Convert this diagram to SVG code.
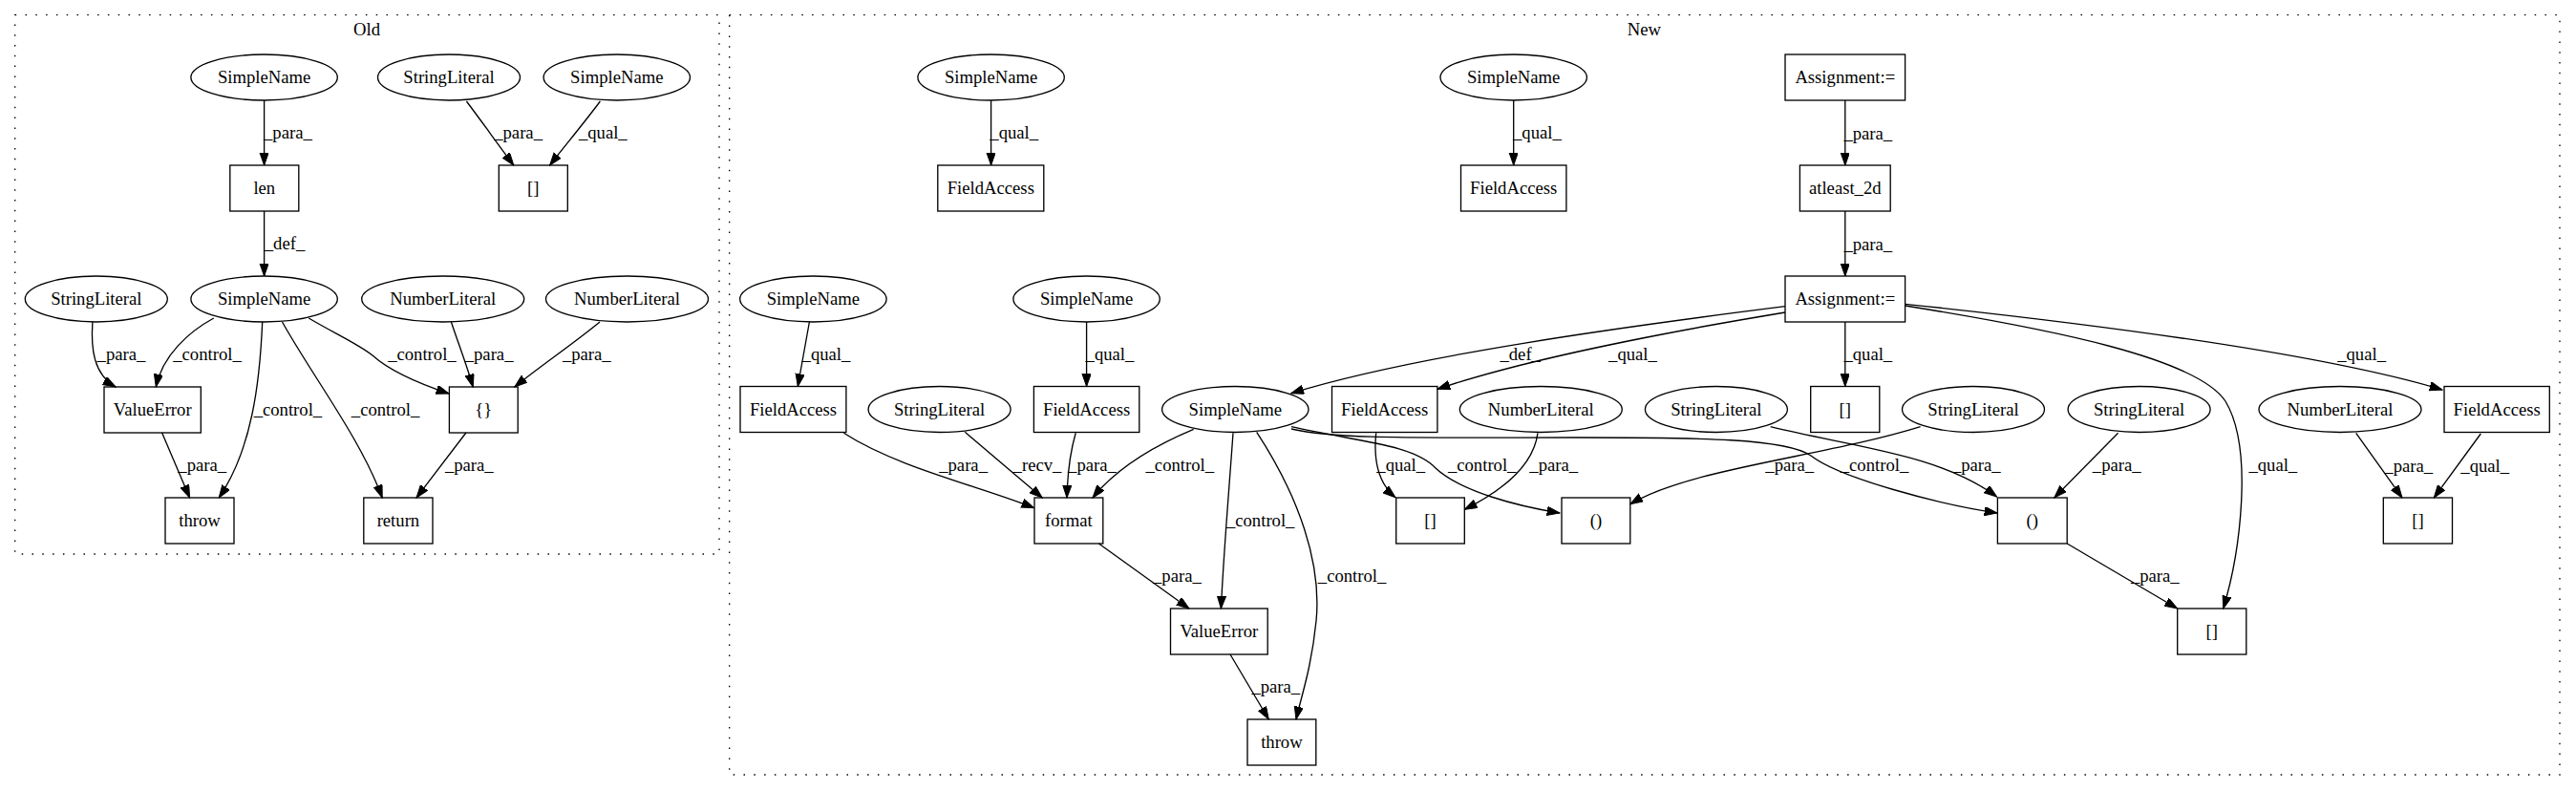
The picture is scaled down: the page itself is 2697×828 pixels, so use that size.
<svg xmlns="http://www.w3.org/2000/svg" width="2697" height="828" viewBox="0 0 2697 828">
<style>
text{font-family:"Liberation Serif","Times New Roman",serif;font-size:18.67px;text-anchor:middle;fill:#000}
.n ellipse,.n rect{fill:none;stroke:#000;stroke-width:1.33}
.c{fill:none;stroke:#000;stroke-width:1.33;stroke-dasharray:1.5,9.3}
#edges path{fill:none;stroke:#000;stroke-width:1.33;marker-end:url(#ah)}
</style>
<defs>
<marker id="ah" markerUnits="userSpaceOnUse" markerWidth="14" markerHeight="10" refX="13.3" refY="4.67" orient="auto">
<path d="M0,0 L13.3,4.67 L0,9.33 z" fill="#000" stroke="#000" stroke-width="1"/>
</marker>
</defs>
<rect width="2697" height="828" fill="#fff"/>
<g id="cluster_old"><rect class="c" x="15.7" y="15.7" width="737.3" height="564.3"/><text x="384" y="36.5">Old</text></g>
<g id="cluster_new"><rect class="c" x="763.7" y="15.7" width="1916.3" height="795.3"/><text x="1721.4" y="37">New</text></g>

<g id="edges">
<path d="M276.6,105 L276.6,173"/>
<path d="M488.4,106 C505,128 522,152 537.8,173"/>
<path d="M628.4,106 C612,128 592,152 575.6,173"/>
<path d="M276.6,221 L276.6,289"/>
<path d="M96.9,337 C95,365 98,392 121.1,405"/>
<path d="M223.8,333 C198,347 170,372 163.3,405"/>
<path d="M274.7,337 C272,400 264,470 229.2,521"/>
<path d="M295.5,337 C328,395 378,460 400.2,521"/>
<path d="M323.2,333 C352,350 375,360 390,372 C410,390 440,402 470,412"/>
<path d="M472.4,337 C480,360 489,383 495.2,405"/>
<path d="M628,337 C600,360 566,383 538.8,405"/>
<path d="M169.6,453 L198.6,521"/>
<path d="M487.9,453 L436,521"/>

<path d="M1037.6,105 L1037.6,173"/>
<path d="M1584.7,105 L1584.7,173"/>
<path d="M1931.8,105 L1931.8,173"/>
<path d="M1931.8,221 L1931.8,289"/>
<path d="M847.4,337 L835.3,404.5"/>
<path d="M1137.6,337 L1137.6,404.5"/>
<path d="M1869,320.7 C1700,342 1480,372 1351.7,411.7"/>
<path d="M1869,327 C1760,345 1600,375 1505,407.3"/>
<path d="M1931.8,337 L1931.8,404.5"/>
<path d="M1994.6,320 C2150,345 2300,375 2330,420 C2360,470 2345,580 2327.7,637"/>
<path d="M1994.6,318.3 C2200,340 2430,370 2557,408"/>
<path d="M883.4,453.3 C940,490 1030,510 1082.6,531.7"/>
<path d="M1010.3,452.3 L1091.2,521"/>
<path d="M1126.2,453.3 C1120,475 1117.5,500 1117,521"/>
<path d="M1249.7,449.3 C1200,470 1165,495 1144,521"/>
<path d="M1291,453.3 C1287,510 1281,580 1278.4,637"/>
<path d="M1315.7,452.3 C1360,520 1384,590 1378,650 C1373,700 1362,730 1357,753"/>
<path d="M1150.4,569 L1245,637"/>
<path d="M1288,685 L1328.3,753"/>
<path d="M1440.7,453.3 C1438,480 1442,505 1461,520.7"/>
<path d="M1610,453.3 C1605,490 1570,515 1533.3,533.3"/>
<path d="M1352,446.7 C1420,462 1480,465 1503,490 C1530,515 1590,530 1633,537"/>
<path d="M1352,449 C1400,460 1480,458 1650,458 C1780,458 1870,459 1896,477 C1925,500 2030,528 2091,537"/>
<path d="M2010.6,446.7 C1910,478 1770,490 1706.8,527.7"/>
<path d="M1853.7,446.7 C1940,468 2030,475 2090.7,520"/>
<path d="M2217.6,453.3 L2150.8,521"/>
<path d="M2164.2,569 L2279.7,637"/>
<path d="M2466.7,453.3 L2515,521"/>
<path d="M2597.3,454 L2548.3,521"/>

<text x="301.4" y="145">_para_</text>
<text x="542.6" y="145">_para_</text>
<text x="631.3" y="145">_qual_</text>
<text x="298" y="261">_def_</text>
<text x="127" y="377">_para_</text>
<text x="217" y="377">_control_</text>
<text x="301.4" y="435">_control_</text>
<text x="403.6" y="435">_control_</text>
<text x="441.9" y="377">_control_</text>
<text x="512.1" y="377">_para_</text>
<text x="614.3" y="377">_para_</text>
<text x="211.7" y="493">_para_</text>
<text x="491.3" y="493">_para_</text>

<text x="1061.7" y="145">_qual_</text>
<text x="1609.4" y="145">_qual_</text>
<text x="1955.8" y="146">_para_</text>
<text x="1955.8" y="262">_para_</text>
<text x="865" y="377">_qual_</text>
<text x="1162" y="377">_qual_</text>
<text x="1591.7" y="377">_def_</text>
<text x="1709.5" y="377">_qual_</text>
<text x="1955.8" y="377">_qual_</text>
<text x="2472.6" y="377">_qual_</text>
<text x="1008.6" y="493">_para_</text>
<text x="1086" y="493">_recv_</text>
<text x="1143.5" y="493">_para_</text>
<text x="1235.3" y="493">_control_</text>
<text x="1466.7" y="493">_qual_</text>
<text x="1626.7" y="493">_para_</text>
<text x="1551.7" y="493">_control_</text>
<text x="1873.7" y="493">_para_</text>
<text x="1962.5" y="493">_control_</text>
<text x="2069.3" y="493">_para_</text>
<text x="2216.2" y="493">_para_</text>
<text x="2379.8" y="493">_qual_</text>
<text x="2521.7" y="494">_para_</text>
<text x="2601.7" y="494">_qual_</text>
<text x="1319.7" y="551">_control_</text>
<text x="1415.6" y="609">_control_</text>
<text x="1232.4" y="609">_para_</text>
<text x="2256.3" y="609">_para_</text>
<text x="1335.8" y="725">_para_</text>
</g>

<g id="o_sn1" class="n"><ellipse cx="276.6" cy="81" rx="76.7" ry="24"/><text x="276.6" y="87">SimpleName</text></g>
<g id="o_sl1" class="n"><ellipse cx="470" cy="81" rx="74.5" ry="24"/><text x="470" y="87">StringLiteral</text></g>
<g id="o_sn2" class="n"><ellipse cx="645.8" cy="81" rx="76.7" ry="24"/><text x="645.8" y="87">SimpleName</text></g>
<g id="o_len" class="n"><rect x="240.8" y="173" width="72" height="48"/><text x="276.8" y="203">len</text></g>
<g id="o_idx" class="n"><rect x="522.3" y="173" width="72" height="48"/><text x="558.3" y="203">[]</text></g>
<g id="o_sl2" class="n"><ellipse cx="100.8" cy="313" rx="74.5" ry="24"/><text x="100.8" y="319">StringLiteral</text></g>
<g id="o_sn3" class="n"><ellipse cx="276.6" cy="313" rx="76.7" ry="24"/><text x="276.6" y="319">SimpleName</text></g>
<g id="o_nl1" class="n"><ellipse cx="463.7" cy="313" rx="85" ry="24"/><text x="463.7" y="319">NumberLiteral</text></g>
<g id="o_nl2" class="n"><ellipse cx="656.5" cy="313" rx="85" ry="24"/><text x="656.5" y="319">NumberLiteral</text></g>
<g id="o_ve" class="n"><rect x="109" y="405" width="101.3" height="48"/><text x="159.7" y="435">ValueError</text></g>
<g id="o_br" class="n"><rect x="470.4" y="405" width="71.8" height="48"/><text x="506.3" y="435">{}</text></g>
<g id="o_throw" class="n"><rect x="173" y="521" width="72" height="48"/><text x="209" y="551">throw</text></g>
<g id="o_ret" class="n"><rect x="380.8" y="521" width="72.2" height="48"/><text x="416.9" y="551">return</text></g>

<g id="n_sn1" class="n"><ellipse cx="1037.6" cy="81" rx="76.7" ry="24"/><text x="1037.6" y="87">SimpleName</text></g>
<g id="n_sn2" class="n"><ellipse cx="1584.7" cy="81" rx="76.7" ry="24"/><text x="1584.7" y="87">SimpleName</text></g>
<g id="n_as1" class="n"><rect x="1869" y="57" width="125.6" height="48"/><text x="1931.8" y="87">Assignment:=</text></g>
<g id="n_fa1" class="n"><rect x="981.8" y="173" width="111" height="48"/><text x="1037.3" y="203">FieldAccess</text></g>
<g id="n_fa2" class="n"><rect x="1529.5" y="173" width="110.4" height="48"/><text x="1584.7" y="203">FieldAccess</text></g>
<g id="n_a2d" class="n"><rect x="1884.4" y="173" width="94.8" height="48"/><text x="1931.8" y="203">atleast_2d</text></g>
<g id="n_sn3" class="n"><ellipse cx="851.4" cy="313" rx="76.7" ry="24"/><text x="851.4" y="319">SimpleName</text></g>
<g id="n_sn4" class="n"><ellipse cx="1137.6" cy="313" rx="76.7" ry="24"/><text x="1137.6" y="319">SimpleName</text></g>
<g id="n_as2" class="n"><rect x="1869" y="289" width="125.6" height="48"/><text x="1931.8" y="319">Assignment:=</text></g>
<g id="n_fa3" class="n"><rect x="775" y="404.5" width="110.9" height="48"/><text x="830.5" y="434.5">FieldAccess</text></g>
<g id="n_sl1" class="n"><ellipse cx="983.6" cy="428.5" rx="74.5" ry="24"/><text x="983.6" y="434.5">StringLiteral</text></g>
<g id="n_fa4" class="n"><rect x="1082.4" y="404.5" width="110.4" height="48"/><text x="1137.6" y="434.5">FieldAccess</text></g>
<g id="n_sn5" class="n"><ellipse cx="1293.3" cy="428.5" rx="76.7" ry="24"/><text x="1293.3" y="434.5">SimpleName</text></g>
<g id="n_fa5" class="n"><rect x="1394.5" y="404.5" width="110.4" height="48"/><text x="1449.7" y="434.5">FieldAccess</text></g>
<g id="n_nl1" class="n"><ellipse cx="1613.3" cy="428.5" rx="85" ry="24"/><text x="1613.3" y="434.5">NumberLiteral</text></g>
<g id="n_sl2" class="n"><ellipse cx="1796.9" cy="428.5" rx="74.5" ry="24"/><text x="1796.9" y="434.5">StringLiteral</text></g>
<g id="n_idx1" class="n"><rect x="1895.7" y="404.5" width="72.1" height="48"/><text x="1931.8" y="434.5">[]</text></g>
<g id="n_sl3" class="n"><ellipse cx="2066" cy="428.5" rx="74.5" ry="24"/><text x="2066" y="434.5">StringLiteral</text></g>
<g id="n_sl4" class="n"><ellipse cx="2239.6" cy="428.5" rx="74.5" ry="24"/><text x="2239.6" y="434.5">StringLiteral</text></g>
<g id="n_nl2" class="n"><ellipse cx="2450" cy="428.5" rx="85" ry="24"/><text x="2450" y="434.5">NumberLiteral</text></g>
<g id="n_fa6" class="n"><rect x="2559" y="404.5" width="110.3" height="48"/><text x="2614.2" y="434.5">FieldAccess</text></g>
<g id="n_fmt" class="n"><rect x="1083" y="521" width="71.8" height="48"/><text x="1118.9" y="551">format</text></g>
<g id="n_idx2" class="n"><rect x="1461.7" y="521" width="71.6" height="48"/><text x="1497.5" y="551">[]</text></g>
<g id="n_par1" class="n"><rect x="1635" y="521" width="71.8" height="48"/><text x="1670.9" y="551">()</text></g>
<g id="n_par2" class="n"><rect x="2091.4" y="521" width="72.8" height="48"/><text x="2127.8" y="551">()</text></g>
<g id="n_idx3" class="n"><rect x="2495.3" y="521" width="72.2" height="48"/><text x="2531.4" y="551">[]</text></g>
<g id="n_ve" class="n"><rect x="1225.5" y="637" width="101.7" height="48"/><text x="1276.3" y="667">ValueError</text></g>
<g id="n_idx4" class="n"><rect x="2279.7" y="637" width="72.1" height="48"/><text x="2315.8" y="667">[]</text></g>
<g id="n_throw" class="n"><rect x="1306" y="753" width="71.8" height="48"/><text x="1341.9" y="783">throw</text></g>
</svg>
